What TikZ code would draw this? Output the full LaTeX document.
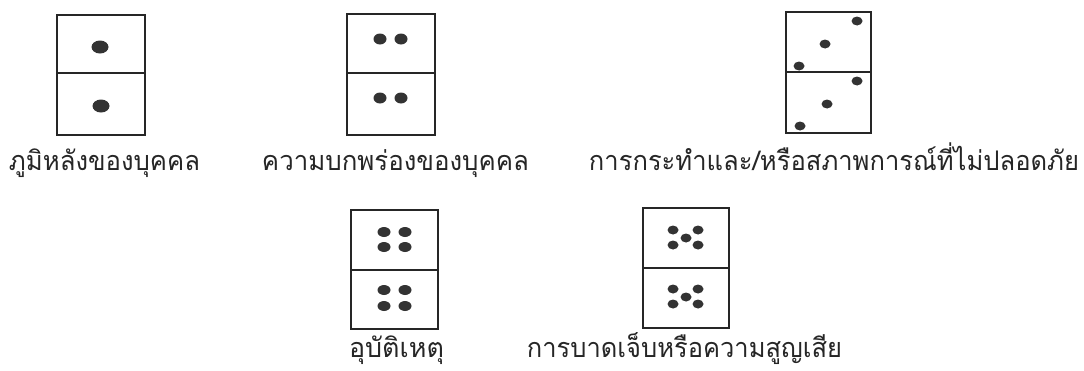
\documentclass[tikz,border=0pt]{standalone}
\usepackage{graphicx}
\usepackage{fontspec}
\newfontfamily\thaifont[Script=Thai]{Loma}
\definecolor{ink}{HTML}{262626}
\definecolor{dotc}{HTML}{333333}
\newcommand{\lab}[2]{\resizebox{#1pt}{\height}{#2}}
\begin{document}
\begin{tikzpicture}[x=1pt,y=-1pt,
  frame/.style={draw=ink,line width=2.6pt},
  midline/.style={draw=ink,line width=1.3pt},
  lbl/.style={anchor=base,inner sep=0pt,font=\thaifont\fontsize{27}{32}\selectfont,text=black!85}]
\fill[white] (0,0) rectangle (1084,370);
\useasboundingbox (0,0) rectangle (1084,370);
% domino 1
\draw[frame] (57,15) rectangle (145,135);
\draw[midline] (57,73) -- (145,73);
\fill[dotc] (100,47) ellipse [x radius=8.5,y radius=6.5];
\fill[dotc] (101,106) ellipse [x radius=8.5,y radius=6.5];
% domino 2
\draw[frame] (347,14) rectangle (435,135);
\draw[midline] (347,73) -- (435,73);
\foreach \x in {380,401}{\foreach \y in {39,98}{\fill[dotc] (\x,\y) ellipse [x radius=6.5,y radius=5.5];}}
% domino 3
\draw[frame] (786,12) rectangle (871,133);
\draw[midline] (786,72) -- (871,72);
\foreach \p in {(857,21),(825,44),(799,66),(857,81),(827,104),(800,126)}{\fill[dotc] \p ellipse [x radius=5.5,y radius=4.5];}
% domino 4
\draw[frame] (351,210) rectangle (438,329);
\draw[midline] (351,270) -- (438,270);
\foreach \x in {384,405}{\foreach \y in {232,247,290,306}{\fill[dotc] (\x,\y) ellipse [x radius=6.5,y radius=5];}}
% domino 5
\draw[frame] (643,208) rectangle (729,328);
\draw[midline] (643,268) -- (729,268);
\foreach \p in {(673,230),(698,230),(686,238),(673,245),(698,245),(673,289),(698,289),(686,297),(673,304),(698,304)}{\fill[dotc] \p ellipse [x radius=5.5,y radius=4.5];}
% labels
\node[lbl] (l1) at (104.5,170) {\lab{191}{ภูมิหลังของบุคคล}};
\node[lbl] (l2) at (395.5,170) {\lab{267}{ความบกพร่องของบุคคล}};
\node[lbl] (l3) at (834,170) {\lab{490}{การกระทำและ/หรือสภาพการณ์ที่ไม่ปลอดภัย}};
\node[lbl] (l4) at (396.5,357) {\lab{95}{อุบัติเหตุ}};
\node[lbl] (l5) at (684.5,357) {\lab{315}{การบาดเจ็บหรือความสูญเสีย}};
\end{tikzpicture}
\end{document}
